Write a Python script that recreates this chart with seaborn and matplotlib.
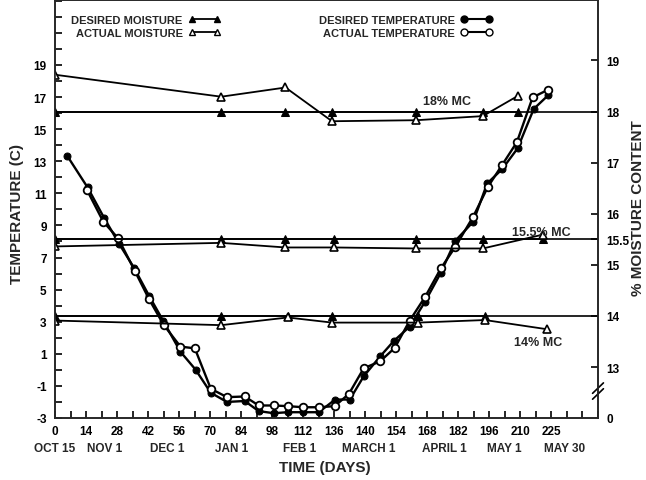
import matplotlib
matplotlib.use("Agg")
import matplotlib.pyplot as plt
from matplotlib.lines import Line2D
from matplotlib.ticker import MultipleLocator, FixedLocator
import seaborn as sns

# ---- temperature (deg C) ----
temp_days_desired = [5.5, 14.7, 22.2, 29, 35.7, 42.5, 48.8, 56.6, 63.4, 70.3, 77.6, 85.6,
                     91.9, 98.6, 105, 112, 119, 126.4, 133, 139.3, 146.7, 153, 160, 167,
                     174, 180.6, 188.7, 195, 201.7, 208.7, 216, 222.5]
temp_desired = [13.34, 11.37, 9.46, 7.84, 6.35, 4.6, 3.06, 1.13, 0.02, -1.43, -2.0, -1.94,
                -2.57, -2.7, -2.64, -2.64, -2.64, -1.85, -1.85, -0.4, 0.84, 1.82, 2.69, 4.26,
                6.03, 8.04, 9.23, 11.62, 12.5, 13.8, 16.26, 17.11]
temp_days_actual = [14.5, 21.8, 28.5, 36, 42.5, 49, 56.6, 63.1, 70.3, 77.6, 85.6, 91.9,
                    98.6, 105, 112, 119, 126.2, 132.6, 139.3, 146.7, 153.3, 160, 167, 174.3,
                    180.6, 188.7, 195.3, 201.7, 208.4, 215.5, 222.5]
temp_actual = [11.19, 9.23, 8.2, 6.17, 4.39, 2.81, 1.45, 1.34, -1.18, -1.7, -1.66, -2.22,
               -2.22, -2.26, -2.33, -2.33, -2.26, -1.5, 0.1, 0.53, 1.37, 3.06, 4.55, 6.37,
               7.66, 9.55, 11.4, 12.76, 14.19, 16.98, 17.46]

# ---- moisture content (%) ----
hi_days = [0, 75, 104, 125, 163, 193, 209]
hi_desired = [18, 18, 18, 18, 18, 18, 18]
hi_actual = [18.72, 18.29, 18.47, 17.81, 17.83, 17.91, 18.31]

mid_days = [0, 75, 104, 126, 163, 193, 220]
mid_desired = [15.5, 15.5, 15.5, 15.5, 15.5, 15.5, 15.5]
mid_actual = [15.36, 15.43, 15.34, 15.34, 15.32, 15.32, 15.59]

lo_days_desired = [0, 75, 105, 125, 164, 194]
lo_desired = [14, 14, 14, 14, 14, 14]
lo_days_actual = [0, 75, 105, 125, 164, 194, 222]
lo_actual = [13.91, 13.82, 13.97, 13.87, 13.87, 13.92, 13.74]

mc_levels = [18, 15.5, 14]

# axis labels
x_ticks = [0, 14, 28, 42, 56, 70, 84, 98, 112, 126, 140, 154, 168, 182, 196, 210, 224]
x_ticklabels = ["0", "14", "28", "42", "56", "70", "84", "98", "112", "136", "140",
                "154", "168", "182", "196", "210", "225"]
month_days = [0, 22.5, 50.5, 79.6, 110.4, 141.5, 175.8, 202.8, 230]
month_labels = ["OCT 15", "NOV 1", "DEC 1", "JAN 1", "FEB 1", "MARCH 1", "APRIL 1",
                "MAY 1", "MAY 30"]
temp_ticks = [-3, -1, 1, 3, 5, 7, 9, 11, 13, 15, 17, 19]
mc_ticks = [13, 14, 15, 15.5, 16, 17, 18, 19]

sns.set_theme(style="ticks")
plt.rcParams["font.family"] = ["Liberation Sans", "DejaVu Sans"]
plt.rcParams["axes.linewidth"] = 1.2
plt.rcParams["axes.unicode_minus"] = False

fig = plt.figure(figsize=(6.46, 4.81), dpi=100)
ax = fig.add_axes([55 / 646, 1 - 419 / 481, 543 / 646, 418 / 481])
ax2 = ax.twinx()

# left axis in deg C; right axis % MC, 18 % sits at 16.1 C and 1 % = 3.185 C
t_lo, t_hi = -3, 23.05
t_18, t_per_pct = 16.1, 3.185
ax.set_ylim(t_lo, t_hi)
m_lo = 18 + (t_lo - t_18) / t_per_pct
ax2.set_ylim(m_lo, 18 + (t_hi - t_18) / t_per_pct)
ax.set_xlim(0, 245)

lw = 1.7
ms = 5
sns.lineplot(x=temp_days_desired, y=temp_desired, ax=ax, color="black", lw=lw,
             marker="o", markersize=ms, markerfacecolor="black", markeredgecolor="black",
             legend=False)
sns.lineplot(x=temp_days_actual, y=temp_actual, ax=ax, color="black", lw=lw,
             marker="o", markersize=ms + 0.5, markerfacecolor="white",
             markeredgecolor="black", markeredgewidth=1.3, legend=False)

for lvl in mc_levels:
    ax2.axhline(lvl, color="black", lw=1.2, zorder=1)

for d, v in [(hi_days, hi_desired), (mid_days, mid_desired), (lo_days_desired, lo_desired)]:
    sns.lineplot(x=d, y=v, ax=ax2, color="black", lw=1.3, marker="^", markersize=ms + 0.5,
                 markerfacecolor="black", markeredgecolor="black", legend=False)
for d, v in [(hi_days, hi_actual), (mid_days, mid_actual), (lo_days_actual, lo_actual)]:
    sns.lineplot(x=d, y=v, ax=ax2, color="black", lw=1.3, marker="^", markersize=ms + 0.5,
                 markerfacecolor="white", markeredgecolor="black", markeredgewidth=1.2,
                 legend=False)

ax2.text(177, 18.2, "18% MC", ha="center", va="center", fontsize=9, fontweight="bold")
ax2.text(219.5, 15.64, "15.5% MC", ha="center", va="center", fontsize=9, fontweight="bold")
ax2.text(218, 13.49, "14% MC", ha="center", va="center", fontsize=9, fontweight="bold")

# ticks
ax.xaxis.set_major_locator(FixedLocator(x_ticks))
ax.set_xticklabels(x_ticklabels)
ax.xaxis.set_minor_locator(MultipleLocator(7))
ax.yaxis.set_major_locator(FixedLocator(temp_ticks))
ax.yaxis.set_minor_locator(MultipleLocator(1))
ax.tick_params(axis="both", which="both", direction="in", length=5, width=1.2,
               labelsize=8.5, colors="black")
ax.tick_params(axis="x", pad=5)
ax.tick_params(axis="y", pad=6)
ax.tick_params(top=False, right=False, which="both")

ax2.yaxis.set_major_locator(FixedLocator([m_lo] + mc_ticks))
ax2.set_yticklabels(["0"] + ["15.5" if t == 15.5 else str(int(t)) for t in mc_ticks])
ax2.tick_params(axis="y", direction="in", length=5, width=1.2, labelsize=8.5, pad=6,
                colors="black")
ax2.yaxis.get_major_ticks()[0].tick2line.set_visible(False)
for lab in ax.get_xticklabels() + ax.get_yticklabels() + ax2.get_yticklabels():
    lab.set_fontweight("bold")

# axis break marks on right spine
for off in (0.0, 0.014):
    ax2.plot([0.99, 1.01], [0.045 + off, 0.07 + off], transform=ax2.transAxes,
             color="black", lw=1.2, clip_on=False)

for d, lab in zip(month_days, month_labels):
    ax.text(d, -0.072, lab, transform=ax.get_xaxis_transform(), ha="center", va="center",
            fontsize=8.5, fontweight="bold")

fig.text(325 / 646, 1 - 468 / 481, "TIME (DAYS)", ha="center", va="center", fontsize=11,
         fontweight="bold")
fig.text(17 / 646, 1 - 214 / 481, "TEMPERATURE (C)", ha="center", va="center",
         rotation=90, fontsize=11, fontweight="bold")
fig.text(638 / 646, 1 - 208 / 481, "% MOISTURE CONTENT", ha="center", va="center",
         rotation=90, fontsize=11, fontweight="bold")

# legends: text first, marker/line after
h_moist = [Line2D([], [], color="black", lw=1.3, marker="^", markersize=ms,
                  markerfacecolor="black"),
           Line2D([], [], color="black", lw=1.3, marker="^", markersize=ms,
                  markerfacecolor="white")]
h_temp = [Line2D([], [], color="black", lw=1.5, marker="o", markersize=ms,
                 markerfacecolor="black"),
          Line2D([], [], color="black", lw=1.5, marker="o", markersize=ms,
                 markerfacecolor="white")]
leg_kw = dict(loc="upper right", bbox_transform=fig.transFigure, frameon=False,
              markerfirst=False, numpoints=2, handlelength=2.9, labelspacing=0.3,
              borderpad=0, handletextpad=0.5, prop={"size": 8, "weight": "bold"})
leg1 = ax.legend(h_moist, ["DESIRED MOISTURE", "ACTUAL MOISTURE"],
                 bbox_to_anchor=(226 / 646, 1 - 10 / 481), **leg_kw)
ax.add_artist(leg1)
ax.legend(h_temp, ["DESIRED TEMPERATURE", "ACTUAL TEMPERATURE"],
          bbox_to_anchor=(498 / 646, 1 - 10 / 481), **leg_kw)

fig.savefig("out.png", dpi=100)
